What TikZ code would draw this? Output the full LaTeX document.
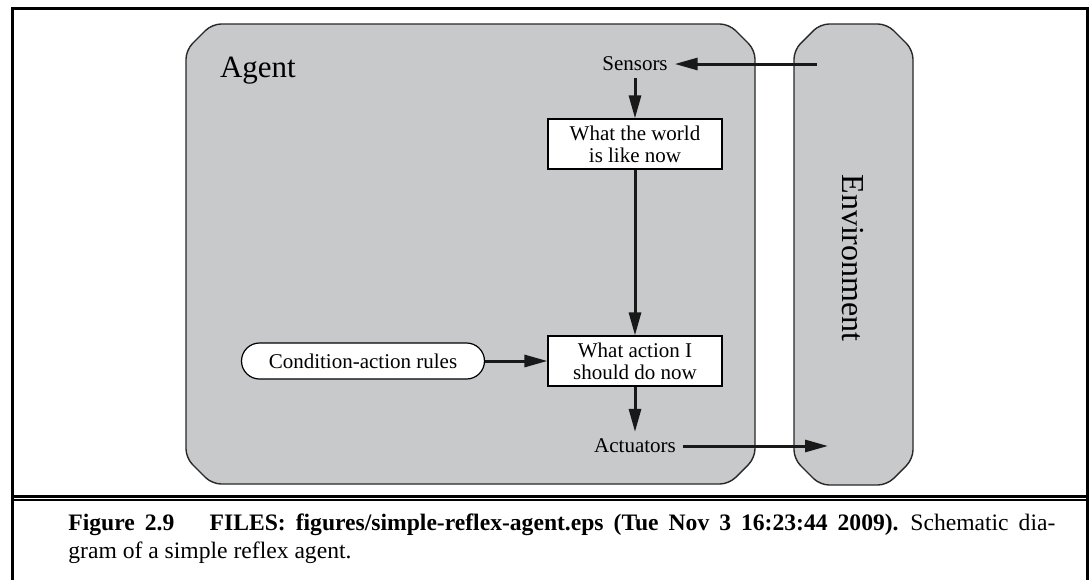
\documentclass[tikz,border=0pt]{standalone}
\usepackage{fontspec}
\setmainfont{Liberation Serif}
\usepackage[x11names, svgnames]{xcolor}
\usepackage{tikz}
\usetikzlibrary{arrows.meta, calc}
\definecolor{PanelGray}{RGB}{200,201,203}
\definecolor{PanelEdge}{RGB}{40,40,40}

\providecommand{\Panel}[5]{
  % name the corners
  \coordinate(nw) at (#1);
  \coordinate(se) at (#2);
  \edef\pcut{#3} % px
  \edef\pfill{#4}%
  \edef\pstroke{#5}%

  \filldraw[fill=\pfill, draw=\pstroke, line width=0.7pt, rounded corners=4.5pt] ($ (nw)+(0,\pcut) $) -- ($ (nw)+(\pcut,0) $) -- ($ (nw -| se)+(-\pcut,0) $) -- ($ (nw -| se)+(0,\pcut) $) -- ($ (se)+(0,-\pcut) $) -- ($ (se)+(-\pcut,0) $) -- ($ (se -| nw)+(\pcut,0) $) -- ($ (se -| nw)+(0,-\pcut) $) -- cycle;
}

\tikzset{
  flow/.style={-{Triangle[length=11.5pt, width=6pt]}, line width=1.5pt, draw=black!90},
  label/.style={font=\fontsize{10.5}{11}\selectfont},
  state/.style={draw=black, fill=white, line width=0.6pt, align=center, minimum width=87pt, minimum height=25pt, inner sep=2pt, font=\fontsize{10.5}{11}\selectfont},
  rules/.style={draw=black, fill=white, line width=0.6pt, minimum width=121.5pt, minimum height=18pt, rounded corners=9pt, font=\fontsize{10.5}{11}\selectfont}
}

\begin{document}
\begin{tikzpicture}[x=0.5pt, y=-0.5pt]

	\useasboundingbox (0,0) rectangle (1089,580);

	% frame and rules
	\draw[line width=1.5pt] (12,580) -- (12,8) -- (1087,8) -- (1087,580);
	\draw[line width=1.4pt] (12,496.3) -- (1087,496.3);
	\draw[line width=0.85pt] (12,500.2) -- (1087,500.2);

	\Panel{186,24}{755,484}{26}{PanelGray}{PanelEdge}
	\Panel{794,24}{913,485}{26}{PanelGray}{PanelEdge}

	\node[anchor=base west, font=\fontsize{15.5}{17}\selectfont] (agent) at (213,77) {Agent};
	\node[rotate=-90, font=\fontsize{16}{18}\selectfont] (env) at (853,258) {Environment};

	\node[label] (sensors) at (635,64) {Sensors};
	\node[state] (world) at (635,144) {What the world\\is like now};
	\node[state] (action) at (635,361) {What action I\\should do now};
	\node[rules] (crules) at (363,361) {Condition-action rules};
	\node[label] (actuators) at (635,446) {Actuators};

	\coordinate (envout) at (817,64);
	\coordinate (envin) at (828,446);

	\draw[flow] (envout) -- (sensors);
	\draw[flow] (sensors) -- (world);
	\draw[flow] (world) -- (action);
	\draw[flow] (crules) -- (action);
	\draw[flow] (action) -- (actuators);
	\draw[flow] (actuators) -- (envin);

	\node[anchor=north west, inner sep=0pt, text width=493.5pt, align=justify, font=\fontsize{11.8}{14}\selectfont] (caption) at (68,513) {\textbf{Figure 2.9\hspace{1.5em}FILES: figures/simple-reflex-agent.eps (Tue Nov 3 16:23:44 2009).}\enspace Schematic dia-\linebreak gram of a simple reflex agent.\par};

\end{tikzpicture}
\end{document}
